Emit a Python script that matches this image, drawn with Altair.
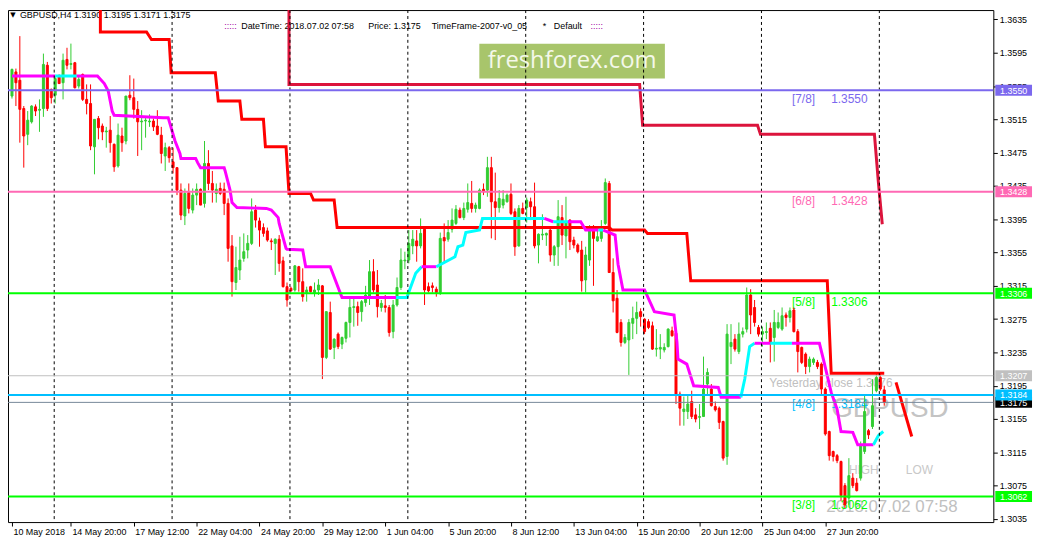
import altair as alt
import pandas as pd

# ---------------- data (GBPUSD H4 candles) ----------------
OPEN = [
 1.3543, 1.3572, 1.3562, 1.3528, 1.3497, 1.3512, 1.3530, 1.3526, 1.3528, 1.3580,
 1.3551, 1.3544, 1.3567, 1.3559, 1.3587, 1.3581, 1.3583, 1.3555, 1.3569, 1.3539,
 1.3534, 1.3482, 1.3516, 1.3507, 1.3500, 1.3502, 1.3485, 1.3459, 1.3495, 1.3489,
 1.3544, 1.3541, 1.3527, 1.3512, 1.3513, 1.3512, 1.3513, 1.3507, 1.3496, 1.3471,
 1.3481, 1.3464, 1.3457, 1.3430, 1.3399, 1.3427, 1.3406, 1.3424, 1.3431, 1.3414,
 1.3462, 1.3438, 1.3426, 1.3432, 1.3431, 1.3414, 1.3363, 1.3319, 1.3334, 1.3348,
 1.3358, 1.3366, 1.3406, 1.3393, 1.3385, 1.3381, 1.3369, 1.3366, 1.3371, 1.3345,
 1.3314, 1.3312, 1.3310, 1.3338, 1.3320, 1.3307, 1.3314, 1.3307, 1.3310, 1.3315,
 1.3229, 1.3283, 1.3241, 1.3257, 1.3245, 1.3252, 1.3271, 1.3289, 1.3290, 1.3284,
 1.3295, 1.3301, 1.3332, 1.3316, 1.3289, 1.3291, 1.3289, 1.3260, 1.3292, 1.3313,
 1.3345, 1.3346, 1.3363, 1.3369, 1.3363, 1.3383, 1.3314, 1.3315, 1.3311, 1.3307,
 1.3373, 1.3371, 1.3383, 1.3390, 1.3406, 1.3397, 1.3407, 1.3414, 1.3408, 1.3408,
 1.3431, 1.3430, 1.3457, 1.3416, 1.3409, 1.3412, 1.3416, 1.3425, 1.3404, 1.3363,
 1.3408, 1.3409, 1.3416, 1.3410, 1.3364, 1.3376, 1.3376, 1.3382, 1.3352, 1.3362,
 1.3397, 1.3375, 1.3394, 1.3370, 1.3364, 1.3358, 1.3322, 1.3346, 1.3382, 1.3369,
 1.3372, 1.3390, 1.3438, 1.3331, 1.3300, 1.3271, 1.3247, 1.3250, 1.3270, 1.3276,
 1.3284, 1.3275, 1.3272, 1.3267, 1.3239, 1.3239, 1.3238, 1.3242, 1.3261, 1.3258,
 1.3185, 1.3164, 1.3164, 1.3176, 1.3160, 1.3157, 1.3158, 1.3197, 1.3191, 1.3170,
 1.3168, 1.3152, 1.3110, 1.3242, 1.3251, 1.3236, 1.3257, 1.3263, 1.3304, 1.3289,
 1.3265, 1.3257, 1.3259, 1.3264, 1.3253, 1.3265, 1.3263, 1.3280, 1.3277, 1.3286,
 1.3260, 1.3241, 1.3233, 1.3218, 1.3223, 1.3223, 1.3221, 1.3191, 1.3140, 1.3116,
 1.3111, 1.3104, 1.3075, 1.3060, 1.3084, 1.3078, 1.3084, 1.3116, 1.3141, 1.3146,
 1.3189, 1.3205, 1.3190,
]
HIGH = [
 1.3576, 1.3576, 1.3615, 1.3531, 1.3525, 1.3532, 1.3533, 1.3539, 1.3594, 1.3584,
 1.3552, 1.3567, 1.3569, 1.3594, 1.3601, 1.3606, 1.3584, 1.3567, 1.3570, 1.3557,
 1.3557, 1.3515, 1.3519, 1.3510, 1.3506, 1.3519, 1.3486, 1.3510, 1.3505, 1.3543,
 1.3568, 1.3564, 1.3537, 1.3526, 1.3519, 1.3521, 1.3516, 1.3526, 1.3506, 1.3487,
 1.3483, 1.3481, 1.3457, 1.3438, 1.3432, 1.3438, 1.3432, 1.3438, 1.3432, 1.3489,
 1.3478, 1.3453, 1.3438, 1.3439, 1.3439, 1.3420, 1.3376, 1.3362, 1.3374, 1.3378,
 1.3376, 1.3420, 1.3412, 1.3397, 1.3390, 1.3385, 1.3372, 1.3372, 1.3376, 1.3350,
 1.3319, 1.3314, 1.3340, 1.3339, 1.3336, 1.3314, 1.3315, 1.3319, 1.3323, 1.3316,
 1.3284, 1.3296, 1.3252, 1.3259, 1.3254, 1.3272, 1.3301, 1.3301, 1.3296, 1.3298,
 1.3315, 1.3346, 1.3347, 1.3334, 1.3298, 1.3304, 1.3292, 1.3298, 1.3325, 1.3360,
 1.3356, 1.3382, 1.3382, 1.3382, 1.3396, 1.3384, 1.3319, 1.3319, 1.3314, 1.3379,
 1.3390, 1.3394, 1.3408, 1.3412, 1.3409, 1.3415, 1.3438, 1.3441, 1.3415, 1.3432,
 1.3438, 1.3470, 1.3470, 1.3451, 1.3430, 1.3430, 1.3426, 1.3438, 1.3408, 1.3412,
 1.3415, 1.3421, 1.3421, 1.3439, 1.3378, 1.3401, 1.3379, 1.3384, 1.3364, 1.3418,
 1.3412, 1.3422, 1.3395, 1.3374, 1.3366, 1.3369, 1.3362, 1.3388, 1.3388, 1.3384,
 1.3394, 1.3444, 1.3441, 1.3348, 1.3310, 1.3275, 1.3257, 1.3275, 1.3290, 1.3296,
 1.3288, 1.3276, 1.3275, 1.3272, 1.3263, 1.3257, 1.3246, 1.3264, 1.3266, 1.3259,
 1.3188, 1.3182, 1.3185, 1.3189, 1.3168, 1.3173, 1.3230, 1.3216, 1.3197, 1.3176,
 1.3170, 1.3153, 1.3269, 1.3269, 1.3257, 1.3271, 1.3265, 1.3313, 1.3311, 1.3298,
 1.3268, 1.3266, 1.3271, 1.3271, 1.3286, 1.3283, 1.3289, 1.3283, 1.3289, 1.3289,
 1.3263, 1.3242, 1.3235, 1.3230, 1.3229, 1.3226, 1.3223, 1.3193, 1.3141, 1.3117,
 1.3113, 1.3105, 1.3078, 1.3108, 1.3090, 1.3084, 1.3128, 1.3183, 1.3143, 1.3203,
 1.3211, 1.3209, 1.3195,
]
LOW = [
 1.3540, 1.3531, 1.3487, 1.3457, 1.3484, 1.3510, 1.3519, 1.3500, 1.3518, 1.3525,
 1.3534, 1.3534, 1.3558, 1.3539, 1.3575, 1.3575, 1.3552, 1.3552, 1.3537, 1.3521,
 1.3478, 1.3449, 1.3491, 1.3490, 1.3481, 1.3475, 1.3452, 1.3457, 1.3476, 1.3485,
 1.3538, 1.3516, 1.3471, 1.3478, 1.3493, 1.3506, 1.3501, 1.3496, 1.3462, 1.3453,
 1.3463, 1.3450, 1.3424, 1.3394, 1.3388, 1.3402, 1.3402, 1.3412, 1.3412, 1.3409,
 1.3430, 1.3415, 1.3415, 1.3424, 1.3400, 1.3344, 1.3302, 1.3310, 1.3322, 1.3344,
 1.3348, 1.3364, 1.3385, 1.3362, 1.3374, 1.3368, 1.3358, 1.3328, 1.3332, 1.3313,
 1.3290, 1.3308, 1.3308, 1.3308, 1.3296, 1.3296, 1.3307, 1.3302, 1.3304, 1.3203,
 1.3227, 1.3238, 1.3227, 1.3239, 1.3239, 1.3247, 1.3253, 1.3266, 1.3267, 1.3272,
 1.3290, 1.3292, 1.3307, 1.3277, 1.3284, 1.3283, 1.3254, 1.3252, 1.3290, 1.3310,
 1.3335, 1.3342, 1.3353, 1.3344, 1.3360, 1.3292, 1.3307, 1.3307, 1.3302, 1.3304,
 1.3342, 1.3368, 1.3379, 1.3388, 1.3396, 1.3394, 1.3403, 1.3403, 1.3403, 1.3407,
 1.3424, 1.3422, 1.3372, 1.3370, 1.3403, 1.3408, 1.3415, 1.3400, 1.3351, 1.3362,
 1.3401, 1.3391, 1.3394, 1.3360, 1.3342, 1.3370, 1.3363, 1.3344, 1.3339, 1.3339,
 1.3364, 1.3348, 1.3358, 1.3360, 1.3354, 1.3308, 1.3307, 1.3339, 1.3315, 1.3368,
 1.3368, 1.3388, 1.3331, 1.3283, 1.3258, 1.3242, 1.3245, 1.3208, 1.3251, 1.3257,
 1.3266, 1.3257, 1.3263, 1.3238, 1.3230, 1.3227, 1.3235, 1.3241, 1.3254, 1.3173,
 1.3147, 1.3147, 1.3155, 1.3155, 1.3151, 1.3143, 1.3158, 1.3183, 1.3170, 1.3164,
 1.3143, 1.3105, 1.3100, 1.3221, 1.3236, 1.3233, 1.3253, 1.3259, 1.3257, 1.3266,
 1.3254, 1.3242, 1.3251, 1.3223, 1.3224, 1.3263, 1.3261, 1.3266, 1.3271, 1.3259,
 1.3211, 1.3221, 1.3209, 1.3211, 1.3220, 1.3215, 1.3185, 1.3135, 1.3105, 1.3104,
 1.3102, 1.3057, 1.3048, 1.3052, 1.3072, 1.3068, 1.3081, 1.3113, 1.3131, 1.3143,
 1.3187, 1.3189, 1.3171,
]
CLOSE = [
 1.3575, 1.3559, 1.3527, 1.3495, 1.3514, 1.3531, 1.3525, 1.3527, 1.3581, 1.3528,
 1.3541, 1.3564, 1.3558, 1.3586, 1.3580, 1.3582, 1.3553, 1.3563, 1.3539, 1.3534,
 1.3483, 1.3515, 1.3505, 1.3500, 1.3501, 1.3487, 1.3458, 1.3496, 1.3487, 1.3543,
 1.3541, 1.3527, 1.3512, 1.3513, 1.3514, 1.3513, 1.3506, 1.3497, 1.3474, 1.3481,
 1.3469, 1.3457, 1.3430, 1.3400, 1.3426, 1.3408, 1.3424, 1.3431, 1.3412, 1.3462,
 1.3438, 1.3430, 1.3431, 1.3426, 1.3414, 1.3360, 1.3320, 1.3337, 1.3346, 1.3356,
 1.3366, 1.3404, 1.3394, 1.3382, 1.3378, 1.3370, 1.3368, 1.3371, 1.3342, 1.3314,
 1.3298, 1.3309, 1.3339, 1.3320, 1.3302, 1.3310, 1.3308, 1.3310, 1.3316, 1.3229,
 1.3284, 1.3239, 1.3251, 1.3242, 1.3253, 1.3271, 1.3289, 1.3290, 1.3283, 1.3296,
 1.3304, 1.3332, 1.3310, 1.3290, 1.3294, 1.3289, 1.3259, 1.3292, 1.3313, 1.3346,
 1.3346, 1.3366, 1.3371, 1.3363, 1.3378, 1.3310, 1.3309, 1.3313, 1.3307, 1.3372,
 1.3369, 1.3379, 1.3394, 1.3407, 1.3397, 1.3408, 1.3415, 1.3408, 1.3412, 1.3430,
 1.3428, 1.3457, 1.3416, 1.3409, 1.3420, 1.3419, 1.3424, 1.3402, 1.3362, 1.3408,
 1.3402, 1.3418, 1.3410, 1.3363, 1.3377, 1.3377, 1.3378, 1.3352, 1.3362, 1.3398,
 1.3376, 1.3391, 1.3368, 1.3364, 1.3356, 1.3321, 1.3352, 1.3382, 1.3372, 1.3374,
 1.3385, 1.3439, 1.3331, 1.3297, 1.3259, 1.3247, 1.3253, 1.3271, 1.3276, 1.3283,
 1.3278, 1.3260, 1.3265, 1.3239, 1.3240, 1.3241, 1.3241, 1.3263, 1.3255, 1.3185,
 1.3168, 1.3167, 1.3173, 1.3158, 1.3155, 1.3158, 1.3191, 1.3211, 1.3171, 1.3166,
 1.3151, 1.3108, 1.3257, 1.3247, 1.3239, 1.3257, 1.3260, 1.3304, 1.3280, 1.3271,
 1.3257, 1.3260, 1.3260, 1.3247, 1.3271, 1.3271, 1.3279, 1.3277, 1.3285, 1.3260,
 1.3236, 1.3223, 1.3218, 1.3227, 1.3227, 1.3218, 1.3191, 1.3137, 1.3111, 1.3110,
 1.3105, 1.3063, 1.3052, 1.3087, 1.3075, 1.3069, 1.3123, 1.3164, 1.3136, 1.3171,
 1.3205, 1.3191, 1.3175,
]

# time axis labels (bar index -> text)
X_LABEL_POS = [0, 15, 31, 47, 63, 79, 95, 111, 127, 143, 159, 175, 191, 207]
X_LABELS = ["10 May 2018", "14 May 20:00", "17 May 12:00", "22 May 04:00", "24 May 20:00",
            "29 May 12:00", "1 Jun 04:00", "5 Jun 20:00", "8 Jun 12:00", "13 Jun 04:00",
            "15 Jun 20:00", "20 Jun 12:00", "25 Jun 04:00", "27 Jun 20:00"]
Y_TICKS = [1.3635, 1.3595, 1.3555, 1.3515, 1.3475, 1.3435, 1.3395, 1.3355, 1.3315,
           1.3275, 1.3235, 1.3195, 1.3155, 1.3115, 1.3075, 1.3035]
GRID_POS = [10.75, 40.75, 70.75, 100.75, 130.75, 160.75, 190.75, 220.75]

# horizontal levels
LEVEL_PRICE = [1.3550, 1.3428, 1.3306, 1.3207, 1.3184, 1.3175, 1.3062]
LEVEL_COLOR = ["#7b68ee", "#ff69b4", "#00ff00", "#c0c0c0", "#00bfff", "#778899", "#00ff00"]
LEVEL_WIDTH = [2, 2, 2, 1, 2, 1, 2]
BADGE_BG = ["#7b68ee", "#ff69b4", "#00ff00", "#c0c0c0", "#00bfff", "#000000", "#00ff00"]

# Murrey labels
MM_NAME = ["[7/8]", "[6/8]", "[5/8]", "[4/8]", "[3/8]"]
MM_PRICE = [1.3550, 1.3428, 1.3306, 1.3184, 1.3062]
MM_COLOR = ["#7b68ee", "#ff69b4", "#00ff00", "#00bfff", "#00ff00"]

# stepped red level line (bar index, price)
RED_PTS = [(22.5, 1.3680), (22.5, 1.3620), (34.25, 1.3620), (35.5, 1.3611), (40, 1.3611),
           (40.5, 1.3571), (51.75, 1.3571), (52.5, 1.3537), (58, 1.3537), (58.5, 1.3515),
           (64, 1.3515), (64.5, 1.3482), (69.75, 1.3482), (70.5, 1.3426), (76, 1.3426),
           (76.75, 1.3418), (82, 1.3418), (82.75, 1.3385), (152, 1.3385), (152.75, 1.3382),
           (161, 1.3382), (161.75, 1.3378), (171.75, 1.3378), (172.75, 1.3321),
           (207.5, 1.3321), (208.5, 1.3210), (222, 1.3210)]
CRIMSON_PTS = [(70.5, 1.3680), (70.5, 1.3557), (159.75, 1.3557), (160.5, 1.3508),
               (189.75, 1.3508), (190.5, 1.3497), (219.5, 1.3497), (220.5, 1.3440),
               (221.5, 1.3389)]
DIAG_PTS = [(225, 1.3199), (229, 1.3134)]

# magenta / cyan step average (bar index, price, colour of the following segment)
MA_PTS = [
 (0, 1.3567, "M"), (11, 1.3567, "C"), (16.5, 1.3567, "M"), (21.75, 1.3567, "M"),
 (23.5, 1.3558, "M"), (24.5, 1.3549, "M"), (25, 1.3537, "M"), (25.5, 1.3525, "M"),
 (26, 1.3520, "M"), (38.5, 1.3517, "M"), (39.75, 1.3517, "M"), (41.5, 1.3489, "M"),
 (42.75, 1.3474, "M"), (43, 1.3468, "M"), (46.75, 1.3468, "M"), (47.25, 1.3463, "M"),
 (48, 1.3457, "M"), (54, 1.3457, "M"), (54.25, 1.3453, "M"), (55.5, 1.3430, "M"),
 (56, 1.3415, "M"), (57.25, 1.3409, "M"), (64.75, 1.3408, "M"), (66, 1.3406, "M"),
 (67.75, 1.3397, "M"), (68, 1.3390, "M"), (69.75, 1.3360, "M"), (70, 1.3359, "M"),
 (74, 1.3358, "M"), (74.75, 1.3338, "M"), (81, 1.3338, "M"), (83.5, 1.3307, "M"),
 (84, 1.3301, "M"), (97.75, 1.3301, "C"), (100.5, 1.3301, "C"), (101.5, 1.3314, "C"),
 (102.75, 1.3330, "C"), (104.25, 1.3338, "M"), (108, 1.3338, "C"), (112.75, 1.3350, "C"),
 (113.5, 1.3362, "C"), (114.75, 1.3364, "C"), (115.5, 1.3379, "C"), (119, 1.3382, "C"),
 (119.75, 1.3396, "C"), (135.5, 1.3396, "M"), (137.75, 1.3392, "C"), (141.5, 1.3392, "M"),
 (144.75, 1.3392, "M"), (146, 1.3382, "M"), (149.25, 1.3382, "C"), (150.5, 1.3382, "M"),
 (153.5, 1.3376, "M"), (154.25, 1.3341, "M"), (155.5, 1.3310, "M"), (161, 1.3310, "M"),
 (163.5, 1.3284, "M"), (168.5, 1.3280, "M"), (169.25, 1.3247, "M"), (169.5, 1.3227, "M"),
 (171.75, 1.3221, "M"), (173.5, 1.3195, "M"), (179.75, 1.3193, "M"), (180.5, 1.3181, "M"),
 (185.5, 1.3181, "C"), (186.5, 1.3203, "C"), (187.75, 1.3242, "C"), (189, 1.3246, "M"),
 (193, 1.3246, "C"), (198.5, 1.3246, "M"), (205.5, 1.3246, "M"), (206.5, 1.3227, "M"),
 (208.5, 1.3187, "M"), (210, 1.3167, "M"), (211, 1.3140, "M"), (214, 1.3139, "M"),
 (215.25, 1.3124, "M"), (219.25, 1.3124, "C"), (220.5, 1.3135, "C"), (221.75, 1.3140, "C"),
]

# ---------------- scales / helpers ----------------
FONT = "Liberation Sans"
XS = alt.Scale(domain=[0.25, 248.5], nice=False, zero=False)
YS = alt.Scale(domain=[1.30312, 1.36463], nice=False, zero=False)
UP, DOWN = "#32cd32", "#ff0000"


def X(f="idx"):
    return alt.X(f"{f}:Q", scale=XS, axis=None)


def Y(f="p"):
    return alt.Y(f"{f}:Q", scale=YS, axis=None)


one = pd.DataFrame({"a": [0]})


def ptext(x, y, s, size=9, color="black", font=FONT, align="left"):
    return alt.Chart(one).mark_text(text=s, fontSize=size, color=color, font=font,
                                    align=align, baseline="middle").encode(
        x=alt.value(x), y=alt.value(y))


def dtext(i, p, s, size, color, dy=0, font=FONT):
    return alt.Chart(pd.DataFrame({"idx": [i], "p": [p]})).mark_text(
        text=s, fontSize=size, color=color, font=font, align="left",
        baseline="middle", dy=dy).encode(x=X(), y=Y())


# ---------------- frames ----------------
n = len(OPEN)
cd = pd.DataFrame({"idx": list(range(n)), "o": OPEN, "h": HIGH, "l": LOW, "c": CLOSE})
cd["col"] = [UP if c >= o else DOWN for o, c in zip(OPEN, CLOSE)]
cd["top"] = cd[["o", "c"]].max(axis=1)
cd["bot"] = cd[["o", "c"]].min(axis=1)


def pts_df(pts):
    return pd.DataFrame({"idx": [a for a, b in pts], "p": [b for a, b in pts],
                         "ord": list(range(len(pts)))})


rows = []
run = 0
for j in range(len(MA_PTS) - 1):
    if j > 0 and MA_PTS[j][2] != MA_PTS[j - 1][2]:
        run += 1
    col = "#ff00ff" if MA_PTS[j][2] == "M" else "#00ffff"
    for jj in (j, j + 1):
        rows.append({"run": run, "col": col, "idx": MA_PTS[jj][0], "p": MA_PTS[jj][1], "ord": jj})
ma = pd.DataFrame(rows).drop_duplicates(subset=["run", "ord"])

lv = pd.DataFrame({"p": LEVEL_PRICE, "col": LEVEL_COLOR, "w": LEVEL_WIDTH,
                   "bg": BADGE_BG, "txt": [f"{v:.4f}" for v in LEVEL_PRICE]})
mm = pd.DataFrame({"p": MM_PRICE, "name": MM_NAME, "col": MM_COLOR,
                   "txt": [f"{v:.4f}" for v in MM_PRICE]})
grid = pd.DataFrame({"idx": GRID_POS})

x_label_expr = ("[" + ",".join("'" + s + "'" for s in X_LABELS) + "][indexof(["
                + ",".join(str(v) for v in X_LABEL_POS) + "], datum.value)]")
XAXIS = alt.Axis(orient="bottom", values=X_LABEL_POS, labelExpr=x_label_expr,
                 labelAlign="left", labelOffset=1, labelPadding=2, tickSize=4,
                 tickColor="black", domain=False, grid=False, title=None,
                 labelFont=FONT, labelFontSize=9, labelColor="black",
                 labelFlush=False, labelOverlap=False, labelBound=False)
YAXIS = alt.Axis(orient="right", values=Y_TICKS, format=".4f", tickSize=4,
                 tickColor="black", labelPadding=2, domain=False, grid=False,
                 title=None, labelFont=FONT, labelFontSize=9, labelColor="black",
                 labelFlush=False, labelOverlap=False)

# ---------------- layers ----------------
axis_layer = alt.Chart(cd).mark_point(opacity=0, size=1).encode(
    x=alt.X("idx:Q", scale=XS, axis=XAXIS),
    y=alt.Y("c:Q", scale=YS, axis=YAXIS))

logo_rect = alt.Chart(one).mark_rect(color="#a8c56b").encode(
    x=alt.value(475), x2=alt.value(662), y=alt.value(34), y2=alt.value(69))
logo_txt = ptext(568.5, 51.5, "freshforex.com", size=24, color="#f4f8ea",
                 font="Open Sans", align="center")

header = [
    ptext(5, 5, "\u25bc", size=7, font="DejaVu Sans", align="center"),
    ptext(12, 5, "GBPUSD,H4  1.3190 1.3195 1.3171 1.3175"),
    ptext(218, 16, ":::::", color="#a000a0"),
    ptext(235, 16, "DateTime: 2018.07.02 07:58"),
    ptext(363, 16, "Price: 1.3175"),
    ptext(427, 16, "TimeFrame-2007-v0_05"),
    ptext(539, 16, "*"),
    ptext(550, 16, "Default"),
    ptext(587, 16, ":::::", color="#a000a0"),
]

water = [
    dtext(208.5, 1.3167, "GBPUSD", 28, "#c4c4c4"),
    dtext(213, 1.3094, "HIGH", 12, "#c8c8c8"),
    dtext(227.5, 1.3094, "LOW", 12, "#c8c8c8"),
    dtext(207.25, 1.3049, "2018.07.02 07:58", 17, "#c0c0c0"),
    dtext(192.75, 1.3198, "Yesterday close 1.3076", 12, "#c0c0c0"),
]

mm_name = alt.Chart(mm).transform_calculate(idx="198.5").mark_text(
    font=FONT, fontSize=12, align="left", baseline="middle", dy=9).encode(
    x=X(), y=Y(), text="name:N", color=alt.Color("col:N", scale=None))
mm_val = alt.Chart(mm).transform_calculate(idx="208.5").mark_text(
    font=FONT, fontSize=12, align="left", baseline="middle", dy=9).encode(
    x=X(), y=Y(), text="txt:N", color=alt.Color("col:N", scale=None))

wicks = alt.Chart(cd).mark_rule(strokeWidth=1, clip=True).encode(
    x=X(), y=Y("l"), y2="h:Q", color=alt.Color("col:N", scale=None))
bodies = alt.Chart(cd).mark_bar(size=2, strokeWidth=1, clip=True).encode(
    x=X(), y=Y("top"), y2="bot:Q",
    color=alt.Color("col:N", scale=None), stroke=alt.Stroke("col:N", scale=None))

red = alt.Chart(pts_df(RED_PTS)).mark_line(color="#ff0000", strokeWidth=3, clip=True).encode(
    x=X(), y=Y(), order="ord:Q")
crimson = alt.Chart(pts_df(CRIMSON_PTS)).mark_line(color="#dc143c", strokeWidth=3, clip=True).encode(
    x=X(), y=Y(), order="ord:Q")
ma_line = alt.Chart(ma).mark_line(strokeWidth=3, clip=True).encode(
    x=X(), y=Y(), detail="run:N", order="ord:Q", color=alt.Color("col:N", scale=None))
diag = alt.Chart(pts_df(DIAG_PTS)).mark_line(color="#ff0000", strokeWidth=3, clip=True).encode(
    x=X(), y=Y(), order="ord:Q")

grid_l = alt.Chart(grid).mark_rule(color="black", strokeWidth=1, strokeDash=[3, 3]).encode(x=X())
level_l = alt.Chart(lv).mark_rule().encode(
    y=Y(), color=alt.Color("col:N", scale=None), strokeWidth=alt.StrokeWidth("w:Q", scale=None))

lvA = lv[lv["p"] != 1.3184]
lvB = lv[lv["p"] == 1.3184]


def badge(df):
    r = alt.Chart(df).transform_calculate(
        top="datum.p + 0.00066", bot="datum.p - 0.00066").mark_rect().encode(
        x=alt.value(995), x2=alt.value(1032), y=Y("top"), y2="bot:Q",
        color=alt.Color("bg:N", scale=None))
    t = alt.Chart(df).mark_text(font=FONT, fontSize=9, color="white", align="center",
                                baseline="middle", dy=0.5).encode(
        x=alt.value(1013.5), y=Y(), text="txt:N")
    return [r, t]


layers = ([axis_layer, logo_rect, logo_txt] + header + water + [mm_name, mm_val, wicks, bodies,
          red, crimson, ma_line, diag, grid_l, level_l] + badge(lvA) + badge(lvB))

chart = alt.layer(*layers).resolve_axis(x="independent", y="independent").properties(
    width=993, height=516,
    padding={"left": 0, "top": 0, "right": 42, "bottom": 18},
    autosize=alt.AutoSizeParams(type="none"),
    background="white",
).configure_view(stroke="black", strokeWidth=1)

chart.save("out.html", embed_options={"renderer": "svg", "actions": False})
